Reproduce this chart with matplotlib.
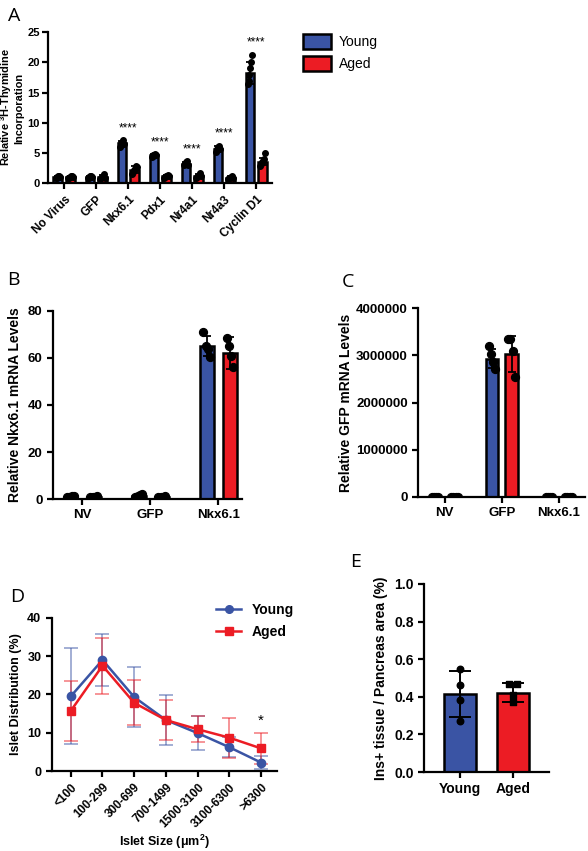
import matplotlib
matplotlib.use("Agg")
import matplotlib.pyplot as plt
import numpy as np
from matplotlib.patches import Patch
from matplotlib.lines import Line2D

plt.rcParams['font.family'] = ['Liberation Sans', 'DejaVu Sans']
plt.rcParams['font.weight'] = 'bold'
plt.rcParams['axes.linewidth'] = 1.6
plt.rcParams['xtick.major.width'] = 1.6
plt.rcParams['ytick.major.width'] = 1.6
plt.rcParams['mathtext.default'] = 'regular'

BLUE = '#3A54A4'
RED = '#EC1C24'

# ---- panel A data
a_cats = ['No Virus', 'GFP', 'Nkx6.1', 'Pdx1', 'Nr4a1', 'Nr4a3', 'Cyclin D1']
a_young = [1.0, 1.0, 6.6, 4.6, 3.2, 5.7, 18.2]
a_aged = [1.0, 1.0, 2.2, 1.1, 1.2, 0.9, 3.5]
a_young_sd = [0.15, 0.15, 0.4, 0.2, 0.3, 0.4, 1.8]
a_aged_sd = [0.15, 0.3, 0.6, 0.2, 0.3, 0.2, 0.6]
a_young_pts = [[0.8, 0.9, 1.0, 1.1, 1.2, 1.0],
               [0.8, 0.9, 1.0, 1.1, 1.2, 1.0],
               [6.0, 6.3, 6.6, 6.8, 7.1, 6.5],
               [4.3, 4.5, 4.6, 4.7, 4.8, 4.6],
               [2.9, 3.1, 3.2, 3.4, 3.6, 3.0],
               [5.2, 5.5, 5.7, 5.9, 6.2, 5.6],
               [16.5, 17.0, 18.0, 19.0, 20.0, 21.3]]
a_aged_pts = [[0.8, 0.9, 1.0, 1.1, 1.2, 1.0],
              [0.6, 0.8, 1.0, 1.2, 1.5, 0.9],
              [1.5, 1.8, 2.1, 2.4, 2.8, 2.6],
              [0.9, 1.0, 1.1, 1.2, 1.3, 1.1],
              [0.9, 1.0, 1.2, 1.4, 1.6, 1.1],
              [0.7, 0.8, 0.9, 1.0, 1.2, 0.9],
              [2.8, 3.1, 3.4, 3.7, 4.0, 5.0]]

# ---- panel B data
b_cats = ['NV', 'GFP', 'Nkx6.1']
b_young = [1.0, 1.5, 65.0]
b_aged = [1.0, 1.0, 62.0]
b_young_sd = [0.2, 0.5, 4.2]
b_aged_sd = [0.1, 0.1, 6.8]
b_young_pts = [[0.8, 1.0, 1.1, 1.2], [1.0, 1.3, 1.6, 2.2], [71.0, 65.0, 64.0, 60.5]]
b_aged_pts = [[0.9, 1.0, 1.0, 1.1], [0.9, 1.0, 1.0, 1.1], [68.6, 65.0, 60.9, 56.2]]

# ---- panel C data
c_cats = ['NV', 'GFP', 'Nkx6.1']
c_young = [0, 2930000, 0]
c_aged = [0, 3030000, 0]
c_young_sd = [0, 200000, 0]
c_aged_sd = [0, 380000, 0]
c_young_pts = [[0, 0, 0, 0], [3200000, 3020000, 2850000, 2700000], [0, 0, 0, 0]]
c_aged_pts = [[0, 0, 0, 0], [3350000, 3350000, 3100000, 2550000], [0, 0, 0, 0]]

# ---- panel D data
d_cats = ['<100', '100-299', '300-699', '700-1499', '1500-3100', '3100-6300', '>6300']
d_young = [19.5, 29.0, 19.3, 13.3, 9.9, 6.2, 2.2]
d_young_sd = [12.5, 6.8, 7.9, 6.5, 4.4, 2.6, 1.7]
d_aged = [15.7, 27.5, 17.8, 13.3, 10.9, 8.7, 5.9]
d_aged_sd = [7.9, 7.3, 5.9, 5.3, 3.4, 5.2, 4.0]

# ---- panel E data
e_cats = ['Young', 'Aged']
e_vals = [0.415, 0.422]
e_sd = [0.12, 0.05]
e_young_pts = [0.55, 0.465, 0.385, 0.27]
e_aged_pts = [0.47, 0.47, 0.41, 0.37]

W, H = 588, 851
fig = plt.figure(figsize=(5.88, 8.51), dpi=100)


def style(ax):
    ax.spines['top'].set_visible(False)
    ax.spines['right'].set_visible(False)
    ax.tick_params(length=4)


def grouped(ax, n, young, aged, ysd, asd, ypts, apts, off, w, ms):
    x = np.arange(n)
    for xs, vals, sd, pts, col in [(x - off, young, ysd, ypts, BLUE),
                                   (x + off, aged, asd, apts, RED)]:
        ax.bar(xs, vals, width=w, color=col, edgecolor='black', linewidth=1.8, zorder=2)
        ax.errorbar(xs, vals, yerr=sd, fmt='none', ecolor='black', elinewidth=1.3,
                    capsize=3, capthick=1.3, zorder=3)
        for xi, p in zip(xs, pts):
            p = np.array(p)
            jit = np.linspace(-w * 0.25, w * 0.25, len(p))
            ax.scatter(xi + jit, p, s=ms, color='black', zorder=4)
    return x


# ---------------- A
axA = fig.add_axes([0.082, 0.785, 0.381, 0.177])
x = grouped(axA, 7, a_young, a_aged, a_young_sd, a_aged_sd, a_young_pts, a_aged_pts,
            0.2, 0.27, 16)
for i in range(2, 7):
    top = max(max(a_young_pts[i]), a_young[i] + a_young_sd[i])
    axA.text(i, top + 1.0, '****', ha='center', va='bottom', fontsize=8.5, fontweight='normal')
axA.set_ylim(0, 25)
axA.set_yticks([0, 5, 10, 15, 20, 25])
axA.set_xlim(-0.5, 6.5)
axA.set_xticks(x)
axA.set_xticklabels(a_cats, rotation=45, ha='right', rotation_mode='anchor', fontsize=8.5)
axA.tick_params(axis='y', labelsize=8, pad=2)
style(axA)
# y label as two lines placed by hand (tight space left of the axis)
fig.text(6.5 / W, 1 - 107 / H, 'Relative $^{3}$H-Thymidine', rotation=90, ha='center',
         va='center', fontsize=7.9, fontweight='bold')
fig.text(19 / W, 1 - 108 / H, 'Incorporation', rotation=90, ha='center', va='center',
         fontsize=7.9, fontweight='bold')

fig.legend(handles=[Patch(facecolor=BLUE, edgecolor='black', linewidth=1.8, label='Young'),
                    Patch(facecolor=RED, edgecolor='black', linewidth=1.8, label='Aged')],
           loc='upper left', bbox_to_anchor=(303 / W, 1 - 34 / H), frameon=False,
           handlelength=2.0, handleheight=1.3, borderpad=0, borderaxespad=0,
           handletextpad=0.6, labelspacing=0.5,
           prop={'weight': 'normal', 'size': 10})

# ---------------- B
axB = fig.add_axes([0.090, 0.4136, 0.322, 0.221])
x = grouped(axB, 3, b_young, b_aged, b_young_sd, b_aged_sd, b_young_pts, b_aged_pts,
            0.17, 0.2, 32)
axB.set_ylim(0, 80)
axB.set_yticks([0, 20, 40, 60, 80])
axB.set_xlim(-0.43, 2.35)
axB.set_xticks(x)
axB.set_xticklabels(b_cats, fontsize=9.5)
axB.tick_params(axis='y', labelsize=9.5)
axB.set_ylabel('Relative Nkx6.1 mRNA Levels', fontsize=10, fontweight='bold')
style(axB)

# ---------------- C
axC = fig.add_axes([0.711, 0.416, 0.284, 0.222])
x = grouped(axC, 3, c_young, c_aged, c_young_sd, c_aged_sd, c_young_pts, c_aged_pts,
            0.17, 0.22, 32)
axC.set_ylim(0, 4000000)
axC.set_yticks([0, 1000000, 2000000, 3000000, 4000000])
axC.set_yticklabels(['0', '1000000', '2000000', '3000000', '4000000'])
axC.set_xlim(-0.47, 2.46)
axC.set_xticks(x)
axC.set_xticklabels(c_cats, fontsize=9.5)
axC.tick_params(axis='y', labelsize=9.5)
axC.set_ylabel('Relative GFP mRNA Levels', fontsize=10, fontweight='bold', labelpad=2)
style(axC)

# ---------------- D
axD = fig.add_axes([0.088, 0.094, 0.383, 0.180])
xd = np.arange(len(d_cats))
axD.errorbar(xd, d_young, yerr=d_young_sd, fmt='none', ecolor=BLUE, alpha=0.55,
             elinewidth=1.2, capsize=5, capthick=1.2, zorder=2)
axD.errorbar(xd, d_aged, yerr=d_aged_sd, fmt='none', ecolor=RED, alpha=0.55,
             elinewidth=1.2, capsize=5, capthick=1.2, zorder=2)
axD.plot(xd, d_young, color=BLUE, marker='o', markersize=6, linewidth=1.8, zorder=3)
axD.plot(xd, d_aged, color=RED, marker='s', markersize=6, linewidth=1.8, zorder=3)
axD.text(6, d_aged[6] + d_aged_sd[6] + 1.5, '*', ha='center', va='bottom', fontsize=11,
         fontweight='normal')
axD.set_ylim(0, 40)
axD.set_yticks([0, 10, 20, 30, 40])
axD.set_xlim(-0.6, 6.5)
axD.set_xticks(xd)
axD.set_xticklabels(d_cats, rotation=45, ha='right', rotation_mode='anchor', fontsize=8.5)
axD.tick_params(axis='y', labelsize=9)
axD.set_ylabel('Islet Distribution (%)', fontsize=9, fontweight='bold')
axD.set_xlabel('Islet Size ($\\mu$m$^2$)', fontsize=9, fontweight='bold', labelpad=2)
style(axD)
fig.legend(handles=[Line2D([], [], color=BLUE, marker='o', markersize=5.5, linewidth=1.8,
                           label='Young'),
                    Line2D([], [], color=RED, marker='s', markersize=5.5, linewidth=1.8,
                           label='Aged')],
           loc='upper left', bbox_to_anchor=(216 / W, 1 - 603 / H), frameon=False,
           borderpad=0, borderaxespad=0, handlelength=1.8, handletextpad=0.8,
           labelspacing=0.55, prop={'weight': 'bold', 'size': 10})

# ---------------- E
axE = fig.add_axes([0.721, 0.0928, 0.213, 0.221])
xe = np.arange(2)
axE.bar(xe, e_vals, width=0.6, color=[BLUE, RED], edgecolor='black', linewidth=1.8, zorder=2)
axE.errorbar(xe, e_vals, yerr=e_sd, fmt='none', ecolor='black', elinewidth=1.4,
             capsize=8, capthick=1.4, zorder=3)
axE.scatter(np.zeros(len(e_young_pts)), e_young_pts, s=22, color='black', marker='o', zorder=4)
axE.scatter(np.ones(len(e_aged_pts)) + np.array([-0.08, 0.08, 0.0, 0.0]), e_aged_pts, s=22,
            color='black', marker='s', zorder=4)
axE.set_ylim(0, 1.0)
axE.set_yticks([0.0, 0.2, 0.4, 0.6, 0.8, 1.0])
axE.set_yticklabels(['0.0', '0.2', '0.4', '0.6', '0.8', '1.0'])
axE.set_xlim(-0.68, 1.68)
axE.set_xticks(xe)
axE.set_xticklabels(e_cats, fontsize=10)
axE.tick_params(axis='y', labelsize=10)
axE.set_ylabel('Ins+ tissue / Pancreas area (%)', fontsize=10, fontweight='bold')
style(axE)

# panel letters
for lab, px, py in [('A', 8, 16), ('B', 7, 280), ('C', 342, 282), ('D', 10, 597), ('E', 350, 562)]:
    fig.text(px / W, 1 - py / H, lab, fontsize=14, fontweight='normal',
             family=['Open Sans', 'DejaVu Sans'], va='center', ha='left')

fig.savefig('out.png', dpi=100)
